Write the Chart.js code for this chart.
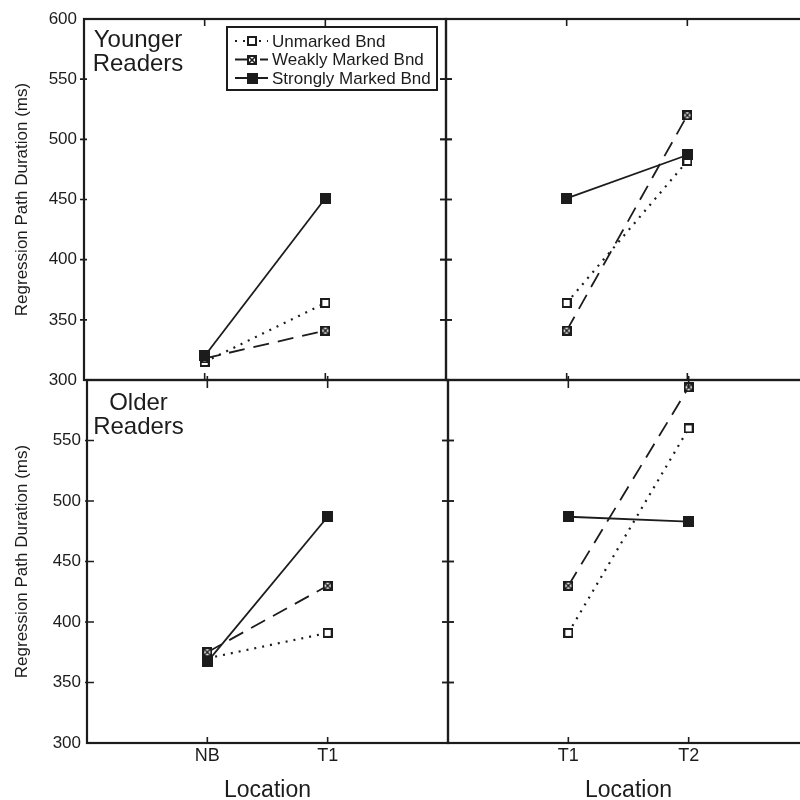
<!DOCTYPE html>
<html>
<head>
<meta charset="utf-8">
<script src="https://cdn.jsdelivr.net/npm/chart.js@4.4.1/dist/chart.umd.min.js"></script>
<style>
  html, body { margin: 0; padding: 0; background: #fff; }
  #wrap { position: relative; width: 800px; height: 800px; overflow: hidden; }
  #wrap canvas { position: absolute; left: 0; top: 0; }
</style>
</head>
<body>
<div id="wrap">
  <canvas id="youngLeft" width="820" height="800"></canvas>
  <canvas id="youngRight" width="820" height="800"></canvas>
  <canvas id="oldLeft" width="820" height="800"></canvas>
  <canvas id="oldRight" width="820" height="800"></canvas>
</div>
<script>
// categories
const leftLocations = ['NB', 'T1'];
const rightLocations = ['T1', 'T2'];
const seriesNames = ['Unmarked Bnd', 'Weakly Marked Bnd', 'Strongly Marked Bnd'];

// younger readers (ms)
const youngLeftUnmarked = [315, 364];
const youngLeftWeak = [318, 341];
const youngLeftStrong = [320, 451];
const youngRightUnmarked = [364, 482];
const youngRightWeak = [341, 520];
const youngRightStrong = [451, 487];

// older readers (ms)
const oldLeftUnmarked = [370, 391];
const oldLeftWeak = [375, 430];
const oldLeftStrong = [367, 487];
const oldRightUnmarked = [391, 560];
const oldRightWeak = [430, 594];
const oldRightStrong = [487, 483];

const yTicks = [300, 350, 400, 450, 500, 550, 600];

const ink = '#1c1c1c';
const fontFamily = "'Liberation Sans', Arial, Helvetica, sans-serif";

function squareMarker(kind) {
  const size = kind === 'filled' ? 11 : 10;
  const c = document.createElement('canvas');
  c.width = size; c.height = size;
  const g = c.getContext('2d');
  g.fillStyle = ink;
  g.fillRect(0, 0, size, size);
  if (kind !== 'filled') {
    g.fillStyle = '#fff';
    g.fillRect(2, 2, size - 4, size - 4);
  }
  if (kind === 'crossed') {
    g.strokeStyle = ink;
    g.lineWidth = 1.6;
    g.beginPath();
    g.moveTo(2, 2); g.lineTo(size - 2, size - 2);
    g.moveTo(size - 2, 2); g.lineTo(2, size - 2);
    g.stroke();
  }
  return c;
}

const markers = [squareMarker('open'), squareMarker('crossed'), squareMarker('filled')];
const dashes = [[2, 6], [16, 9], []];
const lineWidths = [2.2, 1.8, 1.8];
const drawOrder = [2, 1, 0];

function decoPlugin(cfg) {
  return {
    id: 'panelDeco',
    afterDraw(chart) {
      const { ctx, chartArea: a } = chart;
      const x = chart.scales.x, y = chart.scales.y;
      ctx.save();
      ctx.strokeStyle = ink;
      ctx.setLineDash([]);
      ctx.lineWidth = 2.2;
      ctx.strokeRect(a.left, a.top, a.right - a.left, a.bottom - a.top);

      // tick marks
      ctx.lineWidth = 1.6;
      ctx.beginPath();
      cfg.cats.forEach((c, j) => {
        const px = x.getPixelForValue(j + 1);
        ctx.moveTo(px, a.top + cfg.topTick[0]); ctx.lineTo(px, a.top + cfg.topTick[1]);
        ctx.moveTo(px, a.bottom + cfg.bottomTick[0]); ctx.lineTo(px, a.bottom + cfg.bottomTick[1]);
      });
      yTicks.slice(1, -1).forEach(v => {
        const py = y.getPixelForValue(v);
        ctx.moveTo(a.left + cfg.leftTick[0], py); ctx.lineTo(a.left + cfg.leftTick[1], py);
        ctx.moveTo(a.right - 6, py); ctx.lineTo(a.right + 6, py);
      });
      ctx.stroke();

      ctx.fillStyle = ink;
      if (cfg.group) {
        ctx.font = '24px ' + fontFamily;
        ctx.textAlign = 'center';
        ctx.textBaseline = 'alphabetic';
        ctx.fillText(cfg.group[0], a.left + cfg.groupPos[0], a.top + cfg.groupPos[1]);
        ctx.fillText(cfg.group[1], a.left + cfg.groupPos[0], a.top + cfg.groupPos[1] + 24);
      }
      if (cfg.yTitle) {
        ctx.save();
        ctx.font = '17px ' + fontFamily;
        ctx.textAlign = 'center';
        ctx.textBaseline = 'middle';
        ctx.translate(22, (a.top + a.bottom) / 2);
        ctx.rotate(-Math.PI / 2);
        ctx.fillText('Regression Path Duration (ms)', 0, 0);
        ctx.restore();
      }
      if (cfg.xTitle) {
        ctx.font = '23px ' + fontFamily;
        ctx.textAlign = 'center';
        ctx.textBaseline = 'alphabetic';
        ctx.fillText('Location', (a.left + a.right) / 2, a.bottom + 54);
      }
      if (cfg.legend) {
        const lx = 227, ly = 27, lw = 210, lh = 63;
        ctx.fillStyle = '#fff';
        ctx.fillRect(lx, ly, lw, lh);
        ctx.lineWidth = 2;
        ctx.strokeStyle = ink;
        ctx.strokeRect(lx, ly, lw, lh);
        const rows = [41, 59.5, 78];
        chart.data.datasets.forEach((ds, i) => {
          ctx.lineWidth = ds.borderWidth;
          ctx.setLineDash(ds.borderDash);
          ctx.beginPath();
          ctx.moveTo(235, rows[i]); ctx.lineTo(268, rows[i]);
          ctx.stroke();
          ctx.setLineDash([]);
          const m = ds.pointStyle;
          ctx.drawImage(m, Math.round(252 - m.width / 2), Math.round(rows[i] - m.height / 2));
          ctx.fillStyle = ink;
          ctx.font = '17px ' + fontFamily;
          ctx.textAlign = 'left';
          ctx.textBaseline = 'middle';
          ctx.fillText(ds.label, 272, rows[i] + 1);
        });
      }
      ctx.restore();
    }
  };
}

function makePanel(id, box, cats, values, cfg) {
  cfg.cats = cats;
  const datasets = values.map((vals, i) => ({
    label: seriesNames[i],
    data: vals.map((v, j) => ({ x: j + 1, y: v })),
    borderColor: ink,
    backgroundColor: ink,
    borderWidth: lineWidths[i],
    borderDash: dashes[i],
    pointStyle: markers[i],
    pointRadius: 6,
    pointHoverRadius: 6,
    order: drawOrder[i],
    clip: false,
    fill: false,
    tension: 0
  }));
  return new Chart(document.getElementById(id), {
    type: 'line',
    data: { datasets },
    options: {
      responsive: false,
      animation: false,
      events: [],
      layout: { padding: { left: 0, top: box.t, right: 820 - box.r, bottom: 0 } },
      plugins: { legend: { display: false }, tooltip: { enabled: false } },
      scales: {
        x: {
          type: 'linear', min: 0, max: 3,
          afterBuildTicks: s => { s.ticks = cats.map((c, j) => ({ value: j + 1 })); },
          afterFit: s => { s.height = 800 - box.b; },
          grid: { display: false, drawTicks: false },
          border: { display: false },
          ticks: {
            display: !!cfg.xLabels, padding: 2, color: ink, maxRotation: 0,
            font: { family: fontFamily, size: 18 },
            callback: v => cats[v - 1]
          }
        },
        y: {
          type: 'linear', min: 300, max: 600,
          afterBuildTicks: s => { s.ticks = yTicks.map(v => ({ value: v })); },
          afterFit: s => { s.width = box.l; },
          grid: { display: false, drawTicks: false },
          border: { display: false },
          ticks: {
            display: !!cfg.yLabels, padding: cfg.yPad || 6, color: ink,
            font: { family: fontFamily, size: 17 },
            callback: v => (cfg.hideTop && v === 600) ? '' : v
          }
        }
      }
    },
    plugins: [decoPlugin(cfg)]
  });
}

makePanel('youngLeft', { l: 84, t: 19, r: 446, b: 380 }, leftLocations,
  [youngLeftUnmarked, youngLeftWeak, youngLeftStrong],
  { yLabels: true, yPad: 7, yTitle: true, group: ['Younger', 'Readers'], groupPos: [54, 28], legend: true,
    topTick: [0, 7], bottomTick: [-7, 0], leftTick: [-4, 3] });

makePanel('youngRight', { l: 446, t: 19, r: 808, b: 380 }, rightLocations,
  [youngRightUnmarked, youngRightWeak, youngRightStrong],
  { topTick: [0, 7], bottomTick: [-7, 0], leftTick: [-6, 6] });

makePanel('oldLeft', { l: 87, t: 380, r: 448, b: 743 }, leftLocations,
  [oldLeftUnmarked, oldLeftWeak, oldLeftStrong],
  { yLabels: true, yPad: 6, hideTop: true, yTitle: true, xLabels: true, xTitle: true,
    group: ['Older', 'Readers'], groupPos: [51.5, 30],
    topTick: [-4, 8], bottomTick: [-6, 0], leftTick: [-2, 7] });

makePanel('oldRight', { l: 448, t: 380, r: 809, b: 743 }, rightLocations,
  [oldRightUnmarked, oldRightWeak, oldRightStrong],
  { xLabels: true, xTitle: true,
    topTick: [-4, 8], bottomTick: [-6, 0], leftTick: [-6, 6] });
</script>
</body>
</html>
